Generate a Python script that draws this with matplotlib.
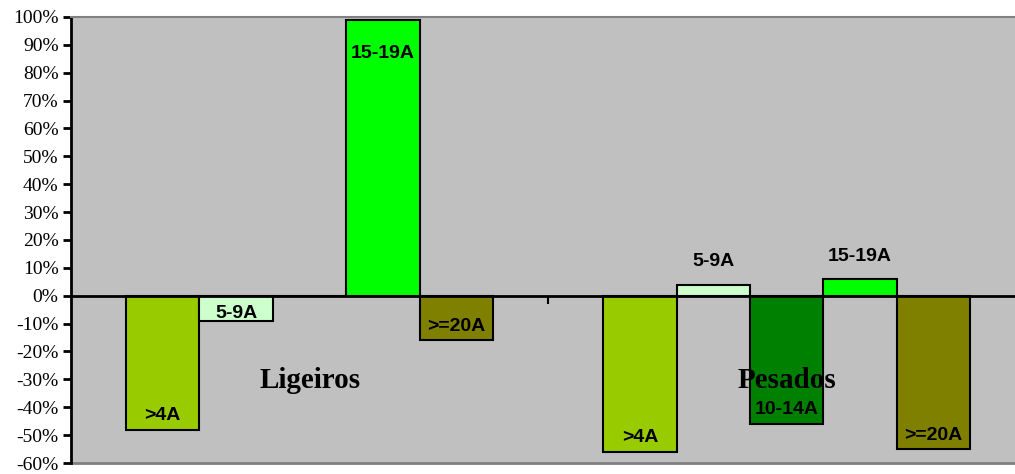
import numpy as np
import matplotlib
matplotlib.use("Agg")
import matplotlib.pyplot as plt

# categorias e series (percentagem)
categorias = ["Ligeiros", "Pesados"]
series = [">4A", "5-9A", "10-14A", "15-19A", ">=20A"]
cores = ["#99CC00", "#CCFFCC", "#008000", "#00FF00", "#808000"]
ligeiros = [-48, -9, 0, 99, -16]
pesados = [-56, 4, -46, 6, -55]
valores = np.array([ligeiros, pesados])

fig = plt.figure(figsize=(10.15, 4.74), dpi=100)
ax = fig.add_axes([0.070, 0.0232, 0.94, 0.9410])
ax.set_facecolor("#C0C0C0")

largura = 1 / 6.5
x = np.arange(len(categorias))
for i, (nome, cor) in enumerate(zip(series, cores)):
    pos = x + (i - 2) * largura
    vals = valores[:, i]
    ax.bar(pos, vals, width=largura, color=cor, edgecolor="black",
           linewidth=1.5, zorder=3)
    for xp, v in zip(pos, vals):
        if v == 0:
            continue
        if v < -10:
            dy = 14
        elif v < 0:
            dy = 7
        elif v < 20:
            dy = 23
        else:
            dy = -34
        ax.annotate(nome, (xp, v), xytext=(0, dy), textcoords="offset pixels",
                    ha="center", va="center", fontsize=14, fontweight="bold",
                    family="Liberation Sans", color="black", zorder=5)

# nomes das categorias dentro da area do grafico
for xc, nome in zip(x, categorias):
    ax.text(xc, -30.5, nome, ha="center", va="center", fontsize=21,
            fontweight="bold", family="Liberation Serif", zorder=4)

ax.set_xlim(-0.5, 1.5)
ax.set_ylim(-60, 100)
yt = np.arange(-60, 101, 10)
ax.set_yticks(yt)
ax.set_yticklabels([f"{v}%" for v in yt], family="Liberation Serif", fontsize=14)
ax.tick_params(axis="y", direction="out", length=6, width=2, color="black", pad=3)

# eixo horizontal no zero
ax.spines["bottom"].set_position(("data", 0))
ax.spines["bottom"].set_color("black")
ax.spines["bottom"].set_linewidth(2)
ax.spines["bottom"].set_zorder(4)
ax.set_xticks([0.5])
ax.set_xticklabels([])
ax.tick_params(axis="x", direction="out", length=6, width=1.5, color="black")

ax.spines["left"].set_color("black")
ax.spines["left"].set_linewidth(2)
ax.spines["top"].set_color("#808080")
ax.spines["top"].set_linewidth(1.5)
ax.spines["right"].set_visible(False)
ax.axhline(-60, color="#808080", linewidth=2, clip_on=False, zorder=2)

fig.savefig("out.png", dpi=100, facecolor="white")
